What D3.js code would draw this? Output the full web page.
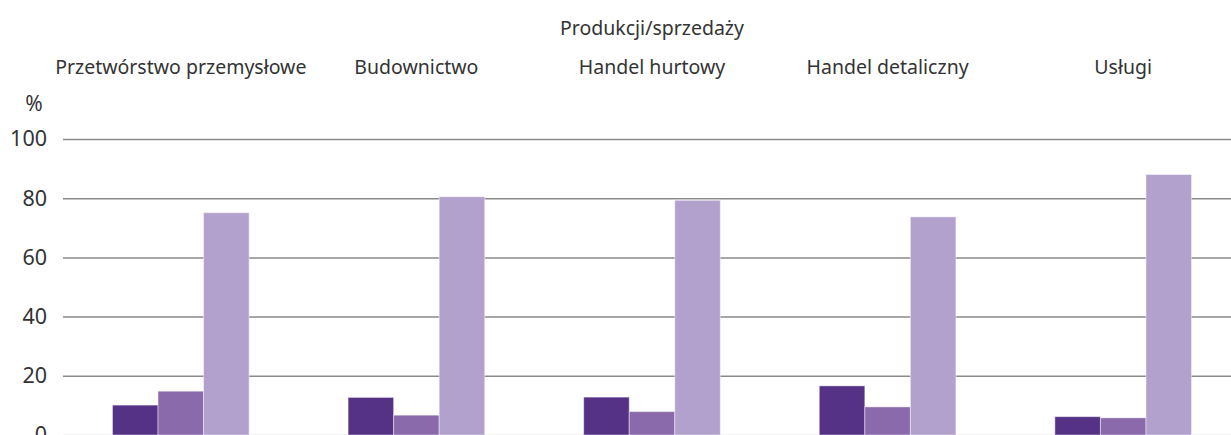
<!DOCTYPE html>
<html>
<head>
<meta charset="utf-8">
<script src="https://cdn.jsdelivr.net/npm/d3@7"></script>
<style>
  html, body { margin: 0; padding: 0; background: #fff; }
  svg { display: block; font-family: "Noto Sans", sans-serif; }
</style>
</head>
<body>
<svg id="chart" width="1231" height="435"></svg>
<script>
const categories = ["Przetwórstwo przemysłowe", "Budownictwo", "Handel hurtowy", "Handel detaliczny", "Usługi"];
const seriesNames = ["Seria 1", "Seria 2", "Seria 3"];
const series1 = [10.1, 12.7, 12.8, 16.6, 6.2];
const series2 = [14.8, 6.7, 7.9, 9.5, 5.8];
const series3 = [75.1, 80.5, 79.3, 73.7, 88.0];
const yTicks = [0, 20, 40, 60, 80, 100];
const title = "Produkcji/sprzedaży";
const unitLabel = "%";
const colors = ["#553285", "#8a6aaa", "#b3a1cd"];

const seriesValues = [series1, series2, series3];
const svg = d3.select("#chart");

const x0 = d3.scaleBand().domain(categories).range([63, 1241]).padding(0);
const x1 = d3.scaleBand().domain(seriesNames)
  .range([x0.bandwidth() * 0.21, x0.bandwidth() * 0.79]).padding(0);
const y = d3.scaleLinear().domain([0, 100]).range([435, 139]);

// gridlines
const yAxis = d3.axisLeft(y).tickValues(yTicks).tickSize(-(1231 - 63)).tickPadding(16);
const gAxis = svg.append("g").attr("transform", "translate(63,0)").call(yAxis);
gAxis.select(".domain").remove();
gAxis.selectAll(".tick line")
  .attr("stroke", d => d === 0 ? "#cfcfcf" : "#8a8a8a")
  .attr("stroke-width", 1.5);
gAxis.selectAll(".tick text")
  .attr("fill", "#333")
  .attr("font-size", 21.5)
  .attr("font-family", "'Noto Sans', sans-serif");

// bars
const groups = svg.append("g").selectAll("g")
  .data(categories)
  .join("g")
  .attr("transform", d => `translate(${x0(d)},0)`);

groups.selectAll("rect")
  .data((d, i) => seriesNames.map((s, j) => ({ s, v: seriesValues[j][i], j })))
  .join("rect")
  .attr("x", d => x1(d.s))
  .attr("width", x1.bandwidth())
  .attr("y", d => y(d.v))
  .attr("height", d => y(0) - y(d.v))
  .attr("fill", d => colors[d.j])
  .attr("stroke", "rgba(255,255,255,0.45)")
  .attr("stroke-width", 1);

// category labels
svg.append("g").selectAll("text")
  .data(categories)
  .join("text")
  .attr("x", d => x0(d) + x0.bandwidth() / 2)
  .attr("y", 74)
  .attr("text-anchor", "middle")
  .attr("fill", "#333")
  .attr("font-size", 19.5)
  .text(d => d);

// title
svg.append("text")
  .attr("x", (x0.range()[0] + x0.range()[1]) / 2)
  .attr("y", 35)
  .attr("text-anchor", "middle")
  .attr("fill", "#333")
  .attr("font-size", 19.5)
  .text(title);

// unit
svg.append("text")
  .attr("x", 34)
  .attr("y", 111)
  .attr("text-anchor", "middle")
  .attr("fill", "#333")
  .attr("font-size", 21)
  .text(unitLabel);
</script>
</body>
</html>
